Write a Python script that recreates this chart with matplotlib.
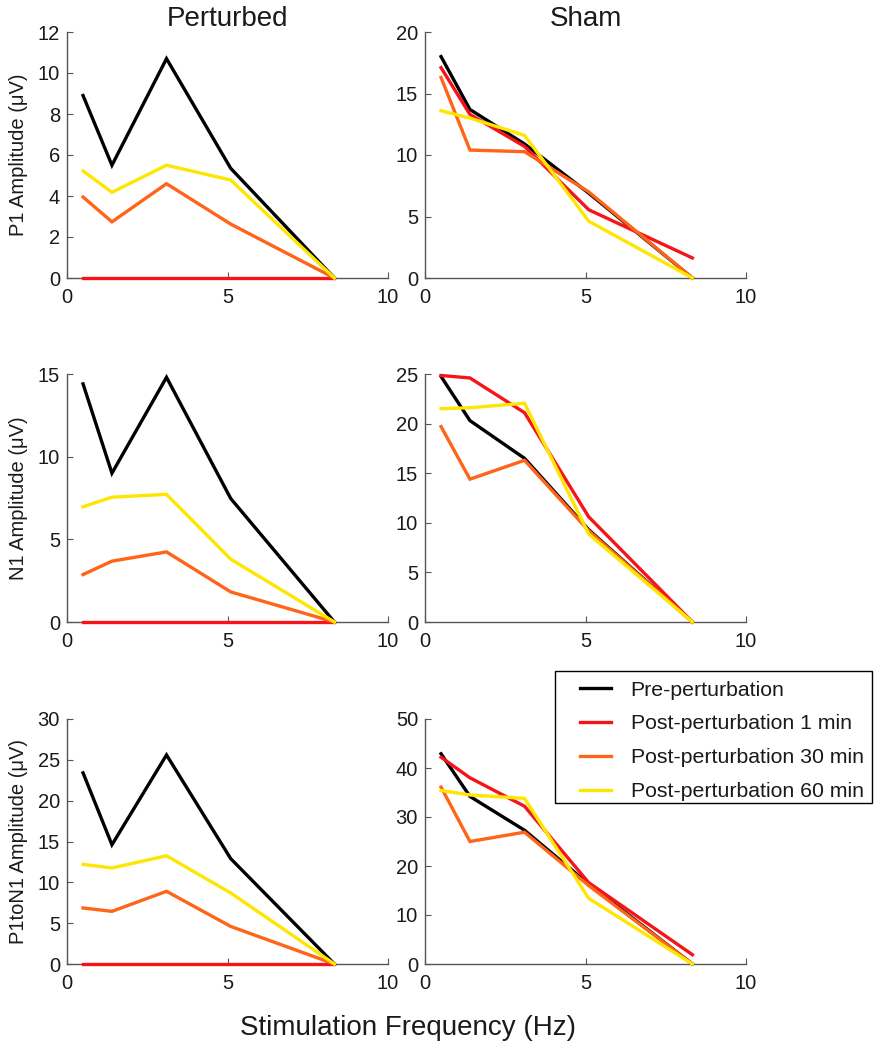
import matplotlib
matplotlib.use("Agg")
import matplotlib.pyplot as plt
from matplotlib.lines import Line2D
from matplotlib.patches import Rectangle

plt.rcParams['font.family'] = ['Liberation Sans', 'DejaVu Sans']

freq = [0.5, 1.4, 3.1, 5.1, 8.33]

series_names = ["Pre-perturbation", "Post-perturbation 1 min",
                "Post-perturbation 30 min", "Post-perturbation 60 min"]
colors = ["#000000", "#f5141a", "#ff6418", "#ffe600"]

# Perturbed
p1_pert = [
    [8.9, 5.5, 10.7, 5.35, 0.0],
    [0.0, 0.0, 0.0, 0.0, 0.0],
    [3.95, 2.74, 4.6, 2.63, 0.0],
    [5.22, 4.18, 5.5, 4.78, 0.0],
]
n1_pert = [
    [14.4, 9.0, 14.8, 7.47, 0.0],
    [0.0, 0.0, 0.0, 0.0, 0.0],
    [2.87, 3.68, 4.24, 1.82, 0.0],
    [6.97, 7.55, 7.72, 3.8, 0.0],
]
p1n1_pert = [
    [23.4, 14.6, 25.6, 12.9, 0.0],
    [0.0, 0.0, 0.0, 0.0, 0.0],
    [6.86, 6.45, 8.9, 4.6, 0.0],
    [12.2, 11.76, 13.25, 8.7, 0.0],
]
# Sham
p1_sham = [
    [18.0, 13.7, 10.9, 6.9, 0.0],
    [17.1, 13.3, 10.7, 5.55, 1.63],
    [16.3, 10.4, 10.27, 7.0, 0.0],
    [13.6, 13.0, 11.6, 4.62, 0.0],
]
n1_sham = [
    [24.75, 20.3, 16.5, 9.3, 0.0],
    [24.85, 24.6, 21.1, 10.6, 0.0],
    [19.7, 14.4, 16.3, 9.2, 0.0],
    [21.5, 21.6, 22.05, 8.86, 0.0],
]
p1n1_sham = [
    [42.9, 34.2, 27.3, 16.3, 0.0],
    [42.2, 38.0, 32.2, 16.6, 1.9],
    [36.1, 25.0, 26.9, 16.0, 0.0],
    [35.4, 34.5, 33.8, 13.4, 0.0],
]

ylabels = ["P1 Amplitude (\u03bcV)", "N1 Amplitude (\u03bcV)", "P1toN1 Amplitude (\u03bcV)"]
ylims_pert = [(0, 12, [0, 2, 4, 6, 8, 10, 12]), (0, 15, [0, 5, 10, 15]), (0, 30, [0, 5, 10, 15, 20, 25, 30])]
ylims_sham = [(0, 20, [0, 5, 10, 15, 20]), (0, 25, [0, 5, 10, 15, 20, 25]), (0, 50, [0, 10, 20, 30, 40, 50])]

W, H = 881, 1050
fig = plt.figure(figsize=(W / 100, H / 100), dpi=100)

rows_px = [(32, 278), (374, 622), (719, 964)]
cols_px = [(67, 388), (425, 746)]

data = [[p1_pert, p1_sham], [n1_pert, n1_sham], [p1n1_pert, p1n1_sham]]
spine_col = "#555555"
text_col = "#1a1a1a"

for r, (top, bot) in enumerate(rows_px):
    for c, (left, right) in enumerate(cols_px):
        ax = fig.add_axes([left / W, 1 - bot / H, (right - left) / W, (bot - top) / H])
        for s, col in zip(data[r][c], colors):
            ax.plot(freq, s, color=col, lw=2.4, solid_joinstyle='miter',
                    clip_on=False, zorder=3)
        ax.set_xlim(0, 10)
        lims = ylims_pert[r] if c == 0 else ylims_sham[r]
        ax.set_ylim(lims[0], lims[1])
        ax.set_yticks(lims[2])
        ax.set_xticks([0, 5, 10])
        for sp in ['top', 'right']:
            ax.spines[sp].set_visible(False)
        for sp in ['left', 'bottom']:
            ax.spines[sp].set_color(spine_col)
            ax.spines[sp].set_linewidth(1.0)
        ax.tick_params(direction='in', length=4, width=0.8, color=spine_col,
                       labelsize=14.5, labelcolor=text_col)
        ax.tick_params(axis='x', pad=7)
        ax.tick_params(axis='y', pad=5)
        if c == 0:
            ax.set_ylabel(ylabels[r], fontsize=14.5, color=text_col)
            ax.yaxis.set_label_coords(-0.12, 0.5)
        if r == 0:
            ax.set_title("Perturbed" if c == 0 else "Sham", fontsize=20, pad=3,
                         color=text_col)

fig.text(408 / W, 1 - 1035 / H, "Stimulation Frequency (Hz)", ha='center', va='baseline',
         fontsize=20, color=text_col)

# legend frame drawn as a figure rectangle
fig.patches.append(Rectangle((555 / W, 1 - 803 / H), (872 - 555) / W, (803 - 671) / H,
                             transform=fig.transFigure, fill=False, edgecolor='black',
                             linewidth=1.0, zorder=5))
handles = [Line2D([0], [0], color=col, lw=2.4) for col in colors]
leg = fig.legend(handles, series_names, loc='upper left',
                 bbox_to_anchor=(570 / W, 1 - 671 / H), fontsize=15.3,
                 frameon=False, handlelength=1.5,
                 handletextpad=0.9, borderpad=0.45, labelspacing=0.7, borderaxespad=0)
for t in leg.get_texts():
    t.set_color(text_col)

fig.savefig("out.png", dpi=100)
